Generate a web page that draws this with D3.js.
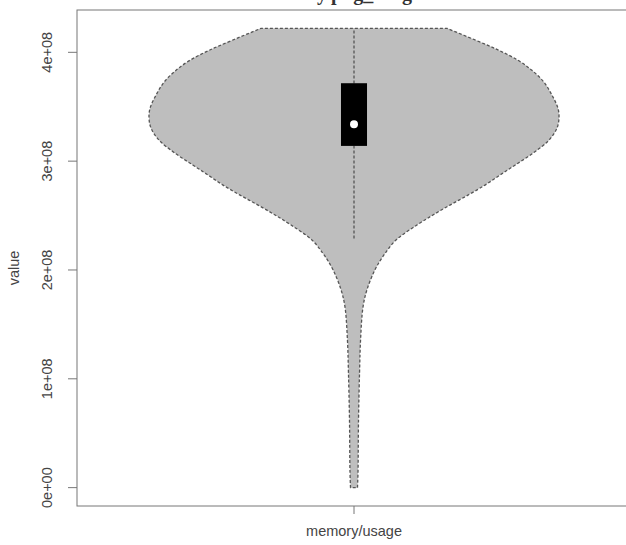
<!DOCTYPE html>
<html>
<head>
  <meta charset="UTF-8">
  <title>memory/usage violin</title>
  <style>
    body { margin: 0; background: #fff; }
    .tick-label, .axis-title { font-family: "Liberation Sans", Arial, sans-serif; fill: #444; }
  </style>
</head>
<body>
<svg id="chart" width="626" height="545"></svg>

<script src="https://d3js.org/d3.v7.min.js"></script>
<script>
  // density outline: value and relative half-width
  var densityValues = [0, 0.138e8, 0.624e8, 1.055e8, 1.358e8, 1.661e8, 1.817e8, 2.000e8,
    2.138e8, 2.275e8, 2.413e8, 2.505e8, 2.596e8, 2.688e8, 2.780e8, 2.872e8, 2.963e8,
    3.073e8, 3.193e8, 3.303e8, 3.394e8, 3.486e8, 3.606e8, 3.725e8, 3.835e8, 3.927e8,
    4.018e8, 4.110e8, 4.220e8]
  var densityWidths = [0.017, 0.0195, 0.022, 0.027, 0.032, 0.044, 0.063, 0.102,
    0.146, 0.205, 0.307, 0.385, 0.468, 0.556, 0.639, 0.712, 0.785,
    0.873, 0.951, 0.990, 1.0, 0.995, 0.966, 0.927, 0.868, 0.80,
    0.707, 0.595, 0.454]

  // five number summary
  var boxStats = { min: 0, lower: 2.29e8, q1: 3.14e8, median: 3.34e8, q3: 3.716e8, upper: 4.22e8 }
  var yTicks = [0, 1e8, 2e8, 3e8, 4e8]
  var yTickLabels = ["0e+00", "1e+08", "2e+08", "3e+08", "4e+08"]
  var groupName = "memory/usage"

  let margin = { top: 10, right: -5, bottom: 39, left: 77 }
  let width = 626 - margin.left - margin.right,
      height = 545 - margin.top - margin.bottom

  let svg = d3.select("#chart")

  // title, mostly cut off at the top edge like in the source image
  svg.append("text")
    .attr("x", 421)
    .attr("y", 0)
    .attr("text-anchor", "end")
    .style("font-family", "Liberation Serif, serif")
    .style("font-size", "20px")
    .style("font-weight", "bold")
    .style("fill", "#333")
    .text("memory.png_usage")

  let chart = svg.append("g")
    .attr("transform", "translate(" + margin.left + "," + margin.top + ")")

  // R style 4% padding on y
  let ext = (boxStats.upper - boxStats.min) * 0.04
  let yScale = d3.scaleLinear()
    .domain([boxStats.min - ext, boxStats.upper + ext])
    .range([height, 0])

  let xScale = d3.scaleLinear()
    .domain([0.5, 1.5])
    .range([0, width])

  let wScale = d3.scaleLinear().domain([0, 1]).range([0, 0.37])

  let outline = densityValues.map(function (v, i) { return { v: v, w: densityWidths[i] } })

  let area = d3.area()
    .y(d => yScale(d.v))
    .x0(d => xScale(1 - wScale(d.w)))
    .x1(d => xScale(1 + wScale(d.w)))
    .curve(d3.curveCatmullRom.alpha(0.5))

  chart.append("path")
    .datum(outline)
    .attr("d", area)
    .attr("fill", "#bebebe")
    .attr("stroke", "#555")
    .attr("stroke-width", 1.3)
    .attr("stroke-dasharray", "3,2")

  // whisker
  chart.append("line")
    .attr("x1", xScale(1)).attr("x2", xScale(1))
    .attr("y1", yScale(boxStats.lower)).attr("y2", yScale(boxStats.upper))
    .attr("stroke", "#555")
    .attr("stroke-width", 1.3)
    .attr("stroke-dasharray", "3,2")

  // box
  let boxHalf = 0.0235
  chart.append("rect")
    .attr("x", xScale(1 - boxHalf))
    .attr("width", xScale(1 + boxHalf) - xScale(1 - boxHalf))
    .attr("y", yScale(boxStats.q3))
    .attr("height", yScale(boxStats.q1) - yScale(boxStats.q3))
    .attr("fill", "#000")

  chart.append("circle")
    .attr("cx", xScale(1))
    .attr("cy", yScale(boxStats.median))
    .attr("r", 4)
    .attr("fill", "#fff")

  // frame
  chart.append("rect")
    .attr("x", 0).attr("y", 0)
    .attr("width", width).attr("height", height)
    .attr("fill", "none")
    .attr("stroke", "#777")
    .attr("stroke-width", 1)

  // y axis ticks and rotated labels
  let yAxis = chart.append("g")
  yAxis.selectAll("line")
    .data(yTicks)
    .join("line")
    .attr("x1", -9).attr("x2", 0)
    .attr("y1", d => yScale(d)).attr("y2", d => yScale(d))
    .attr("stroke", "#777")
  yAxis.selectAll("text")
    .data(yTicks)
    .join("text")
    .attr("class", "tick-label")
    .attr("transform", d => "translate(-25," + yScale(d) + ") rotate(-90)")
    .attr("text-anchor", "middle")
    .style("font-size", "14.5px")
    .text((d, i) => yTickLabels[i])

  // x tick
  chart.append("line")
    .attr("x1", xScale(1)).attr("x2", xScale(1))
    .attr("y1", height).attr("y2", height + 8)
    .attr("stroke", "#777")

  chart.append("text")
    .attr("class", "axis-title")
    .attr("x", xScale(1))
    .attr("y", height + 30)
    .attr("text-anchor", "middle")
    .style("font-size", "14.5px")
    .text(groupName)

  chart.append("text")
    .attr("class", "axis-title")
    .attr("transform", "translate(-58," + (height / 2 + 10) + ") rotate(-90)")
    .attr("text-anchor", "middle")
    .style("font-size", "14.5px")
    .text("value")
</script>
</body>
</html>
